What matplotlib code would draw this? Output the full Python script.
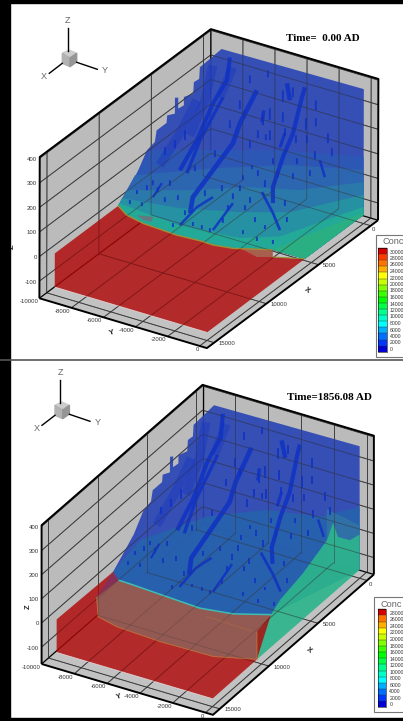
#!/usr/bin/env python3
import numpy as np
import matplotlib
matplotlib.use("Agg")
import matplotlib.pyplot as plt

# axis box of the plot
x_lo, x_hi = -700, 15700
y_lo, y_hi = -10000, 450
z_lo, z_hi = -170, 405

x_ticks = [0, 5000, 10000, 15000]
y_ticks = [-10000, -8000, -6000, -4000, -2000, 0]
z_ticks = [-100, 0, 100, 200, 300, 400]

# land surface, station values
land_x = [0, 8800]
land_z = [368, 0]

# stepped edge of the land on the far side, from top to shore
stair_x = [0, 1040, 1950, 1950, 2445, 2445, 3315, 3260, 3790, 3840, 4157, 4070, 4800, 4810, 5715, 5810, 6520, 7340, 8190]
stair_y = [-8880, -8925, -8960, -9000, -9010, -9050, -9065, -9100, -9110, -9075, -9075, -9135, -9140, -9170, -9200, -9250, -9280, -9370, -9440]
stair_z = [368, 360, 354, 306, 308, 261, 274, 238, 241, 288, 298, 229, 245, 214, 212, 167, 155, 85, 42]

z_base = -135
x_sea = 15000

# shore, time 0
shore1_x = [8910, 9530, 9840, 10000, 9880, 9910, 9670, 8730]
shore1_y = [-9510, -8580, -7340, -5160, -3780, -2930, -1840, 0]
# shore, 1856
shore2_x = [9970, 10020, 10170, 10315, 9950, 9040]
shore2_y = [-8750, -7810, -5680, -3560, -1750, 0]

# salt toe on the y=0 face, time 0
toe1_x = [8730, 5630]
toe1_z = [-29, -135]

# concentration bands, time 0: x,y on the land then z on the x=0 sheet
band1_x = [[5790, 4900, 3960], [7175, 5750, 4520], [7990, 7110, 6120, 5560], [8440, 8100, 7440, 6740], [8720, 9040, 8665, 8030]]
band1_y = [[-9570, -6220, -2650], [-9600, -5660, -1660], [-9565, -6210, -3110, -360], [-9590, -6190, -2870, -210], [-9590, -5575, -2075, 0]]
band1_z = [101, 48, -1, -53, -102]
band1_col = [(45, 88, 182), (45, 104, 176), (42, 124, 170), (38, 148, 162), (35, 172, 150)]

# concentration bands, 1856
band2_x = [[7270, 5270, 4130, 3710]]
band2_y = [[-9050, -6180, -3200, -200]]
band2_z = [126]
band2_col = [(38, 98, 172)]

# fresh water lens under the sea, 1856
lens_x = [10470, 10460, 11340, 11420, 11240, 10850, 10935]
lens_y = [0, 0, -2130, -5340, -8090, -9450, -9500]
lens_z = [-20, -135, -135, -135, -135, -135, -52]

# green face at y=0, 1856
face_x = [10470, 10470, 9040, 8100, 5760, 3320, 2715, 2200, 990, 0, 0]
face_z = [-135, -20, 0, 28, 56, 106, 155, 79, 23, 11, -135]

# darker channels on the land
channel_x = [[1455, 3250, 4290, 5840, 7395, 8190], [640, 1150, 2975, 4250, 5800, 6550], [6190, 7020, 7730],
             [280, 1410, 2690, 4650, 6310], [3870, 4600], [700, 1460], [2300, 2890], [3090, 3820],
             [7120, 8670], [7110, 7810, 8990], [2260, 4610, 6350], [7170, 7960]]
channel_y = [[-5723, -5610, -5370, -5600, -5840, -5500], [-3260, -3110, -2480, -2280, -1890, -1395], [-2320, -1090, -190],
             [-8170, -7630, -7660, -7380, -7360], [-220, 570], [-4340, -3660], [-4735, -4470], [-2910, -2740],
             [-3520, -3760], [-4770, -5320, -5610], [-7316, -7217, -6895], [-7920, -7966]]
channel_w = [3.4, 3.0, 2.0, 3.0, 1.8, 3.2, 2.6, 2.2, 1.8, 1.8, 2.4, 1.6]

# wide dark stacks near the top
stack_x = [[900, 2660, 4520], [710, 2305], [2770, 4564, 6350]]
stack_y = [[-8830, -8180, -7900], [-7710, -7480], [-8610, -8500, -8580]]

# short risers: x, y, drop
riser_x = [1090, 810, 1100, 2120, 2550, 2130, 2850, 3160, 3400, 2085, 1945, 2480, 3130, 3510, 2870, 4100, 4430, 4860, 4480,
           5210, 5060, 5660, 7420, 8350, 7790, 8120, 8570, 8590, 8620, 7960, 6650, 6590, 7465, 8250, 8380, 8295, 7015, 6240,
           8995, 7160, 7850, 8420, 5430, 4960, 4350, 7477, 6917, 7512, 6896, 6422, 7280, 6169, 7041, 5582, 4928, 7702, 5860,
           4872, 3909, 3325, 3027, 2165, 848, 359, 2566, 3248]
riser_y = [-4340, -3900, -2275, -4480, -4630, -3660, -3060, -3800, -3890, -2250, -1720, -620, 50, -760, -1680, -1500, -2780,
           -1250, -440, -3210, -3680, -3850, -8010, -8400, -7330, -5860, -5070, -4500, -3980, -3600, -3830, -2800, -1920, -2160,
           -1200, -260, -220, -850, -6040, -8490, -9030, -9100, -8860, -8550, -8320, -8654, -7584, -6697, -5414, -4663, -3728,
           -3705, -2823, -2528, -2144, -1144, -6714, -6112, -4556, -4439, -2262, -6319, -6555, -5751, -5745, -6236]
riser_d = [48, 40, 40, 48, 40, 40, 32, 40, 24, 48, 32, 40, 32, 32, 32, 24, 24, 24, 24, 24, 16, 20, 20, 16, 20, 20, 16, 16, 16,
           20, 24, 24, 20, 16, 16, 16, 20, 24, 16, 20, 16, 16, 32, 32, 40, 20, 24, 20, 24, 24, 20, 24, 20, 28, 28, 16, 24, 28,
           32, 32, 32, 36, 32, 28, 32, 32]

# legends
legend_col = [(215, 0, 0), (255, 60, 0), (255, 115, 0), (255, 175, 0), (255, 255, 0), (200, 255, 0), (130, 255, 0), (60, 255, 0),
              (0, 255, 0), (0, 255, 70), (0, 255, 140), (0, 255, 200), (0, 255, 255), (0, 175, 255), (0, 110, 255), (0, 55, 255), (0, 0, 215)]
legend1_lab = [30000, 28000, 26000, 24000, 22000, 20000, 18000, 16000, 14000, 12000, 10000, 8000, 6000, 4000, 2000, 0]
legend2_lab = [28000, 26000, 24000, 22000, 20000, 18000, 16000, 14000, 12000, 10000, 8000, 6000, 4000, 2000, 0]

BLUE = (43, 70, 180)
RED = (176, 8, 8)
LINE = (0.22, 0.22, 0.22)
DARK = (16, 50, 195)


def c(rgb):
    return tuple(v / 255 for v in rgb)


def land(x):
    return np.interp(x, land_x, land_z)


class Panel:
    def __init__(self, ax, corners):
        # corners in picture pixels, in the order of the box corners below
        box = [(x_lo, y_lo, z_hi), (x_lo, y_hi, z_hi), (x_hi, y_lo, z_hi),
               (x_hi, y_lo, z_lo), (x_lo, y_hi, z_lo), (x_hi, y_hi, z_lo)]
        a = np.array([[bx, by, bz, 1.0] for bx, by, bz in box])
        self.m = np.linalg.lstsq(a, np.array(corners, float), rcond=None)[0]
        self.ax = ax

    def p(self, x, y, z):
        x, y, z = np.broadcast_arrays(np.asarray(x, float), np.asarray(y, float), np.asarray(z, float))
        v = np.stack([x, y, z, np.ones_like(x)], -1)
        q = v @ self.m
        return q[..., 0], q[..., 1]

    def poly(self, x, y, z, col, alpha=1.0, zorder=2):
        px, py = self.p(x, y, z)
        self.ax.fill(px, py, color=c(col), alpha=alpha, lw=0, zorder=zorder)

    def line(self, x, y, z, color=LINE, lw=0.6, alpha=1.0, zorder=2):
        px, py = self.p(x, y, z)
        self.ax.plot(px, py, color=color, lw=lw, alpha=alpha, zorder=zorder, solid_capstyle="butt")

    def grid(self, zorder, alpha=1.0):
        for xt in x_ticks:
            self.line([xt, xt], [y_lo, y_lo], [z_lo, z_hi], alpha=alpha, zorder=zorder)
            self.line([xt, xt], [y_lo, y_hi], [z_lo, z_lo], alpha=alpha, zorder=zorder)
        for yt in y_ticks[1:]:
            self.line([x_lo, x_lo], [yt, yt], [z_lo, z_hi], alpha=alpha, zorder=zorder)
            self.line([x_lo, x_hi], [yt, yt], [z_lo, z_lo], alpha=alpha, zorder=zorder)
        for zt in z_ticks:
            self.line([x_hi, x_lo, x_lo], [y_lo, y_lo, y_hi], [zt, zt, zt], alpha=alpha, zorder=zorder)

    def box(self):
        self.poly([x_lo, x_hi, x_hi, x_lo], [y_lo, y_lo, y_lo, y_lo], [z_lo, z_lo, z_hi, z_hi], (187, 187, 187), zorder=1)
        self.poly([x_lo, x_lo, x_lo, x_lo], [y_lo, y_hi, y_hi, y_lo], [z_lo, z_lo, z_hi, z_hi], (187, 187, 187), zorder=1)
        self.poly([x_lo, x_hi, x_hi, x_lo], [y_lo, y_lo, y_hi, y_hi], [z_lo, z_lo, z_lo, z_lo], (194, 194, 194), zorder=1)
        self.grid(1.5)
        self.line([x_lo, x_lo], [y_lo, y_lo], [z_lo, z_hi], color="k", lw=1.0, zorder=1.6)
        self.line([x_hi, x_lo, x_lo], [y_lo, y_lo, y_hi], [z_lo, z_lo, z_lo], color="k", lw=0.9, zorder=1.6)

    def outline(self):
        k = dict(color="k", lw=1.4, zorder=6)
        self.line([x_hi, x_hi, x_lo, x_lo, x_lo], [y_lo, y_lo, y_lo, y_hi, y_hi], [z_lo, z_hi, z_hi, z_hi, z_lo], **k)
        self.line([x_hi, x_hi, x_lo], [y_lo, y_hi, y_hi], [z_lo, z_lo, z_lo], **k)

    def labels(self):
        ax = self.ax
        for zt in z_ticks:
            px, py = self.p(x_hi, y_lo, zt)
            ax.text(px - 2.5, py + 1, str(zt), ha="right", va="center", **TICK)
        for yt in y_ticks:
            px, py = self.p(x_hi, yt, z_lo)
            ax.text(px - 1, py + 3.5, str(yt), ha="right", va="center", **TICK)
        for xt in x_ticks:
            px, py = self.p(xt, y_hi, z_lo)
            dx, dy = (1.5, 3.8) if xt == 0 else (4.5, 1)
            ax.text(px + dx, py + dy, str(xt), ha="left", va="center", **TICK)


TICK = dict(family="Liberation Sans", fontsize=4.3, color="#333333", zorder=7)


def land_details(pn, strength=1.0):
    for xs, ys in zip(stack_x, stack_y):
        pn.line(xs, ys, land(xs), color=c((25, 55, 190)), lw=6.5, alpha=0.45, zorder=3.3)
    for xs, ys, w in zip(channel_x, channel_y, channel_w):
        pn.line(xs, ys, land(xs), color=c(DARK), lw=w, alpha=0.85 * strength, zorder=3.4)
    for xr, yr, dr in zip(riser_x, riser_y, riser_d):
        zr = land(xr)
        pn.line([xr, xr], [yr, yr], [zr, zr - dr], color=c(DARK), lw=1.4, alpha=0.85 * strength, zorder=3.4)


def sheet_outline():
    # stepped edge, top of the sheet at y=0, down the sheet
    xs = stair_x[::-1] + [0, 0]
    ys = stair_y[::-1] + [0, 0]
    zs = stair_z[::-1] + [377, z_base]
    return xs, ys, zs


def triad(ax, ox, oy):
    # cube and arrows in picture pixels relative to the cube top
    ax.fill([ox, ox + 7.7, ox + 1, ox - 6.7], [oy, oy + 3.3, oy + 8, oy + 3.3], color=c((205, 205, 205)), zorder=7)
    ax.fill([ox - 6.7, ox + 1, ox + 1, ox - 6.7], [oy + 3.3, oy + 8, oy + 16.7, oy + 13.3], color=c((178, 178, 178)), zorder=7)
    ax.fill([ox + 1, ox + 7.7, ox + 7.7, ox + 1], [oy + 8, oy + 3.3, oy + 12, oy + 16.7], color=c((150, 150, 150)), zorder=7)
    ax.plot([ox - 1.3, ox - 1.3], [oy + 1, oy - 21.7], color="k", lw=1, zorder=7)
    ax.plot([ox - 6.7, ox - 19.7], [oy + 13.3, oy + 23.3], color="k", lw=1, zorder=7)
    ax.plot([ox + 7.7, ox + 28.3], [oy + 12.3, oy + 19.3], color="k", lw=1, zorder=7)
    k = dict(family="Liberation Sans", fontsize=6.6, color="#666666", ha="center", va="center", zorder=7)
    ax.text(ox - 1.3, oy - 29.3, "Z", **k)
    ax.text(ox - 25, oy + 26.7, "X", **k)
    ax.text(ox + 36, oy + 20.7, "Y", **k)


def legend(ax, x0, y0, x1, y1, bar_x0, bar_x1, bar_y0, bar_y1, cols, labs, lab0, lab1):
    ax.fill([x0, x1, x1, x0], [y0, y0, y1, y1], facecolor="white", edgecolor="#777777", lw=0.8, zorder=8)
    ax.text(x0 + 6.5, y0 + 7, "Conc", family="Liberation Sans", fontsize=6.6, color="#666666", ha="left", va="center", zorder=9)
    n = len(cols)
    edges = np.linspace(bar_y0, bar_y1, n + 1)
    for i, col in enumerate(cols):
        ax.fill([bar_x0, bar_x1, bar_x1, bar_x0], [edges[i], edges[i], edges[i + 1], edges[i + 1]], color=c(col), lw=0, zorder=9)
        ax.plot([bar_x0, bar_x1], [edges[i], edges[i]], color="#333333", lw=0.3, zorder=9)
    ax.plot([bar_x0, bar_x1, bar_x1, bar_x0, bar_x0], [bar_y0, bar_y0, bar_y1, bar_y1, bar_y0], color="k", lw=0.4, zorder=9)
    for lab, py in zip(labs, np.linspace(lab0, lab1, len(labs))):
        ax.text(bar_x1 + 3.3, py, str(lab), family="Liberation Sans", fontsize=3.7, color="#333333", ha="left", va="center", zorder=9)


def top_panel(pn):
    pn.box()
    xs, ys, zs = sheet_outline()
    sx = xs + [5630, 8730] + shore1_x[::-1]
    sy = ys + [0, 0] + shore1_y[::-1]
    sz = zs + [z_base, 0] + [0] * len(shore1_x)
    pn.poly(sx, sy, sz, BLUE, alpha=0.92, zorder=2)

    for bx, by, bz, col in zip(band1_x, band1_y, band1_z, band1_col):
        px = bx + [0, 0, 5630, 8730] + shore1_x[::-1]
        py = by + [0, 0, 0, 0] + shore1_y[::-1]
        pz = list(land(bx)) + [bz, z_base, z_base, 0] + [0] * len(shore1_x)
        pn.poly(px, py, pz, col, alpha=0.9, zorder=3)
    # green corner of the y=0 face
    pn.poly([8730, 6100, 0, 0, 5630], [0, 0, 0, 0, 0], [0, -36, -126, z_base, z_base], (42, 176, 128), alpha=0.92, zorder=3.1)
    pn.grid(3.2, alpha=0.35)
    land_details(pn)

    rx = shore1_x + toe1_x + [x_sea, x_sea, x_sea]
    ry = shore1_y + [0, 0] + [0, -9500, -9500]
    rz = [0] * len(shore1_x) + toe1_z + [-137, -137, 0]
    pn.poly(rx, ry, rz, RED, alpha=0.82, zorder=4)
    # brown patches where land is seen through
    pn.poly([9460, 8730, 8730, 9820], [-1560, 0, 0, -260], [0, 0, -29, 0], (165, 105, 85), alpha=0.85, zorder=4.1)
    pn.poly([9260, 8960, 9460, 9540], [-8130, -7290, -7065, -7540], [0, 0, 0, 0], (115, 110, 125), alpha=0.8, zorder=4.1)
    pn.line(shore1_x, shore1_y, [0] * len(shore1_x), color=c((165, 140, 50)), lw=1.0, zorder=4.2)
    pn.line(toe1_x, [0, 0], toe1_z, color=c((150, 150, 60)), lw=0.8, zorder=4.2)
    pn.line([x_sea, x_sea], [-9500, 0], [-137, -137], color=c((235, 225, 225)), lw=0.6, alpha=0.8, zorder=4.2)
    pn.grid(4.3, alpha=0.28)
    pn.outline()
    pn.labels()


def bottom_panel(pn):
    pn.box()
    xs, ys, zs = sheet_outline()
    sx = xs + [9040] + shore2_x[::-1] + [9250]
    sy = ys + [0] + shore2_y[::-1] + [-9500]
    sz = zs + [0] + [0] * len(shore2_x) + [-7]
    pn.poly(sx, sy, sz, BLUE, alpha=0.92, zorder=2)

    for bx, by, bz, col in zip(band2_x, band2_y, band2_z, band2_col):
        px = bx + [0, 0, 9040] + shore2_x[::-1] + [9250]
        py = by + [0, 0, 0] + shore2_y[::-1] + [-9500]
        pz = list(land(bx)) + [bz, z_base, 0] + [0] * len(shore2_x) + [-7]
        pn.poly(px, py, pz, col, alpha=0.9, zorder=3)
    # upper bands on the x=0 sheet
    pn.poly([0, 0, 0, 0], [-2000, 0, 0, -2000], [75, 50, z_base, z_base], (50, 118, 165), alpha=0.8, zorder=3.05)
    pn.poly(face_x, [0] * len(face_x), face_z, (45, 180, 140), alpha=0.92, zorder=3.1)
    pn.grid(3.2, alpha=0.35)
    land_details(pn)

    rx = [9250] + shore2_x + [10470, x_sea, x_sea, x_sea]
    ry = [-9500] + shore2_y + [0, 0, -9500, -9500]
    rz = [-7] + [0] * len(shore2_x) + [z_base, -137, -137, 0]
    pn.poly(rx, ry, rz, RED, alpha=0.82, zorder=4)
    # lens and wedge
    bx = shore2_x + lens_x
    by = shore2_y + lens_y
    bz = [0] * len(shore2_x) + lens_z
    pn.poly(bx, by, bz, (146, 92, 86), alpha=0.95, zorder=4.1)
    pn.poly([9250, 9970, 10935], [-9500, -8750, -9500], [-7, 0, -52], (128, 50, 95), alpha=0.9, zorder=4.15)
    pn.line(bx[len(shore2_x):], by[len(shore2_x):], bz[len(shore2_x):], color=c((190, 110, 60)), lw=0.7, zorder=4.2)
    pn.line([10870, 10965], [-2816, 0], [0, 0], color=c((175, 105, 70)), lw=0.7, alpha=0.7, zorder=4.2)
    pn.line(shore2_x, shore2_y, [0] * len(shore2_x), color=c((60, 190, 180)), lw=1.1, zorder=4.2)
    pn.line([x_sea, x_sea], [-9500, 0], [-137, -137], color=c((235, 225, 225)), lw=0.6, alpha=0.8, zorder=4.2)
    pn.grid(4.3, alpha=0.28)
    pn.outline()
    pn.labels()


def main():
    fig = plt.figure(figsize=(4.03, 7.21), dpi=100)
    ax = fig.add_axes([0, 0, 1, 1])
    ax.set_xlim(0, 403)
    ax.set_ylim(721, 0)
    ax.axis("off")

    # surrounding black strips of the screenshot
    ax.fill([0, 10, 10, 0], [0, 0, 721, 721], color="k", zorder=10)
    ax.fill([0, 403, 403, 0], [0, 0, 3, 3], color="k", zorder=10)
    ax.fill([0, 403, 403, 0], [718, 718, 721, 721], color="k", zorder=10)
    ax.plot([0, 403], [360, 360], color="#555555", lw=1.2, zorder=10)

    p1 = Panel(ax, [(210.7, 29.3), (378.3, 79), (40, 156.7), (39.3, 298.3), (378.3, 220), (206.7, 348.3)])
    p2 = Panel(ax, [(202.3, 385), (374, 435.7), (41.7, 525), (41.7, 664), (374, 574.3), (212.7, 715)])
    top_panel(p1)
    bottom_panel(p2)

    triad(ax, 69, 50)
    triad(ax, 61.7, 402)

    bold = dict(family="Liberation Serif", fontweight="bold", fontsize=8, color="k", ha="center", va="center", zorder=7)
    ax.text(323, 38.5, "Time=  0.00 AD", **bold)
    ax.text(329, 397.7, "Time=1856.08 AD", **bold)

    axl = dict(family="Liberation Sans", fontweight="bold", fontsize=5.4, color="#222222", ha="center", va="center", zorder=7)
    ax.text(12, 247, "Z", rotation=90, **axl)
    ax.text(111.7, 332.7, "Y", rotation=17, **axl)
    ax.text(307.3, 290.7, "X", rotation=-37, **axl)
    ax.text(28, 607, "Z", rotation=90, **axl)
    ax.text(119, 697, "Y", rotation=17, **axl)
    ax.text(309.3, 650.7, "X", rotation=-37, **axl)

    legend(ax, 375.7, 235, 404, 357.3, 378, 386.7, 248, 351.7, legend_col, legend1_lab, 252, 349.5)
    legend(ax, 374, 597.3, 404, 711.7, 377.7, 386, 609.3, 707.3, legend_col[:1] + legend_col[2:], legend2_lab, 613.3, 705)

    fig.savefig("out.png", dpi=100)


if __name__ == "__main__":
    main()
